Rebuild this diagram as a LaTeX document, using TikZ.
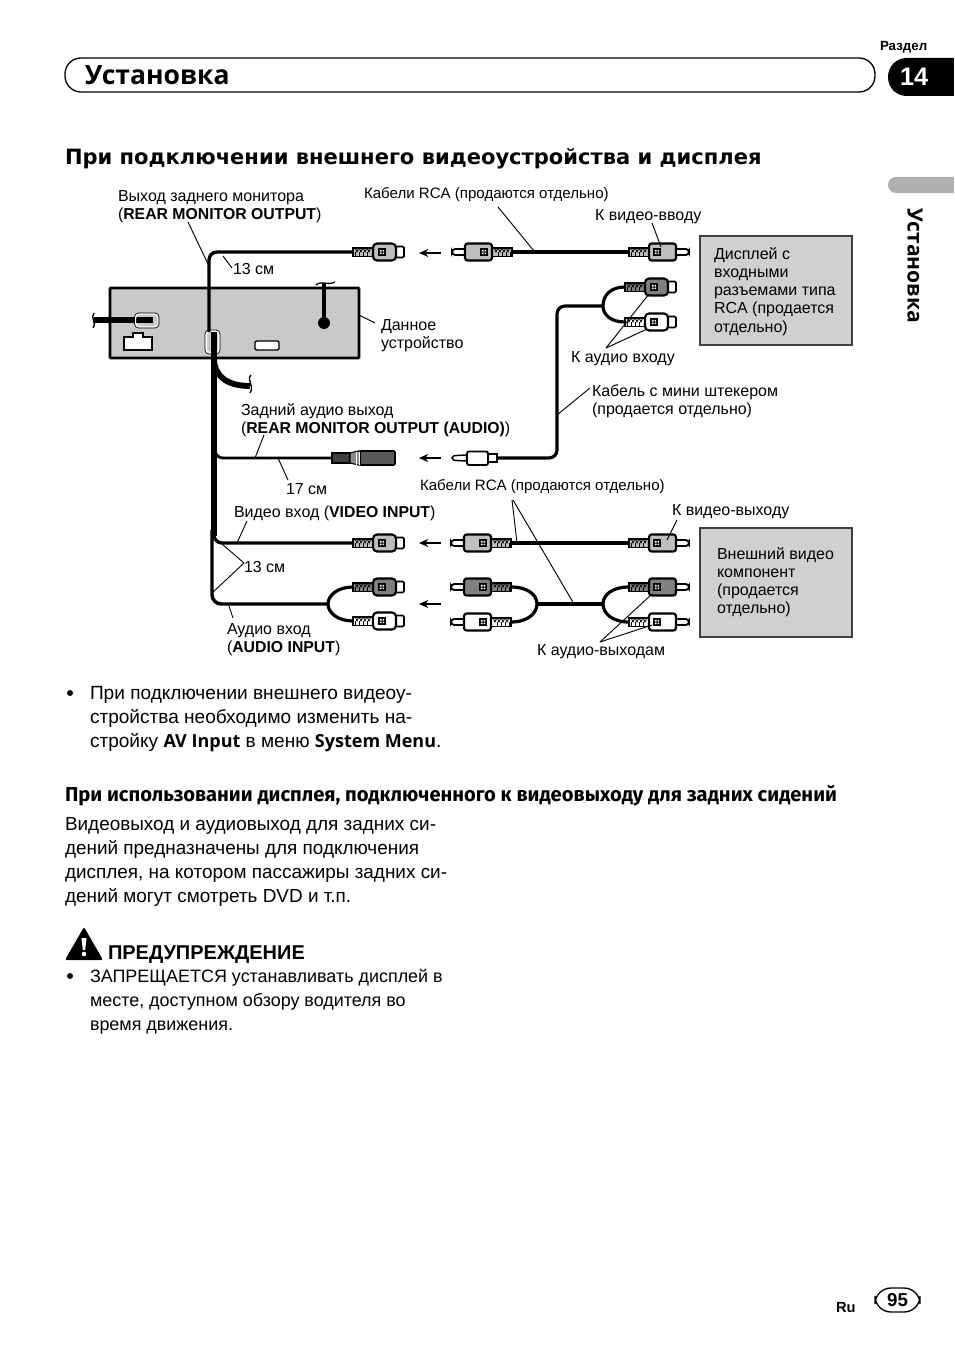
\documentclass[tikz,border=0pt]{standalone}
\usepackage{fontspec}
\setmainfont{Liberation Sans}
\newfontfamily\headf{Open Sans}
\newfontfamily\subf{Fira Sans}
\newfontfamily\dejaf{DejaVu Sans}
\definecolor{boxgray}{HTML}{D0D0D0}
\definecolor{unitgray}{HTML}{C9C9C9}
\definecolor{tabgray}{HTML}{B0B0B0}
\definecolor{vidgray}{HTML}{BEBEBE}
\definecolor{redgray}{HTML}{808080}
\newcounter{ldr}
\newcommand\leader[2]{\stepcounter{ldr}\coordinate (la\theldr) at (#1);\coordinate (lb\theldr) at (#2);\draw[leaderline] (la\theldr) -- (lb\theldr);}
\newcommand\lab[4]{\node[#4] (#1) at (#2) {\rule{0pt}{10pt}#3};}
\newcommand\bt[1]{{\fontsize{11.85}{13.7}\selectfont\bfseries #1}}
\newcommand\hb[1]{{\headf\fontsize{13.5}{18}\selectfont\bfseries #1}}
\newcommand\bootdraw[1]{%
  \draw[fill=#1,line width=0.8pt] (0,-4.5) -- (20,-4.5) -- (20,4.5) -- (0,4.5) -- cycle;
  \foreach \k in {2,6,10,14}{\draw[line width=0.6pt] (\k,-4.5) -- (\k+2,0) -- (\k+4,-4.5);\draw[line width=0.6pt] (\k,4.5) -- (\k,0);}
  \draw[line width=1pt] (0,-4) -- (20,-4);
}
\newcommand\chipdraw[1]{%
  \fill[black] (#1-4,-4) rectangle (#1+4,4);
  \fill[white] (#1-2.2,-2.2) rectangle (#1-0.5,-0.5) (#1+0.5,-2.2) rectangle (#1+2.2,-0.5) (#1-2.2,0.5) rectangle (#1-0.5,2.2) (#1+0.5,0.5) rectangle (#1+2.2,2.2);
}
\usetikzlibrary{arrows.meta}
\tikzset{
 x=0.75pt,y=-0.75pt,
 leaderline/.style={line width=0.7pt,black},
 midc/.style={line width=2.5pt,black,rounded corners=6},
 thinc/.style={line width=2.1pt,black},
 dirarrow/.style={line width=0.8pt,-{Stealth[length=7pt,width=6pt]}},
 sq/.style={line width=1pt,black},
 txtbase/.style={anchor=north west,inner sep=0pt,outer sep=0pt,align=left,yshift=10pt},
 lbl/.style={txtbase,font=\fontsize{12}{13.7}\selectfont},
 lbs/.style={txtbase,font=\fontsize{11.3}{13.5}\selectfont},
 body/.style={txtbase,font=\fontsize{14.3}{18}\selectfont},
 bodyb/.style={txtbase,font=\fontsize{14.2}{18}\selectfont},
 bodys/.style={txtbase,font=\fontsize{13.45}{18}\selectfont},
 head/.style={anchor=base west,inner sep=0pt,outer sep=0pt},
 femalep/.pic={
  \bootdraw{#1}
  \draw[fill=white,line width=1.4pt,rounded corners=1] (40,-5.5) rectangle (51,5.5);
  \draw[fill=#1,line width=1.6pt,rounded corners=3] (20,-8.5) rectangle (43,8.5);
  \chipdraw{29}
 },
 malep/.pic={
  \bootdraw{#1}
  \draw[fill=white,line width=1.4pt,rounded corners=2.5] (44,-3) rectangle (60,3);
  \draw[fill=#1,line width=1.6pt,rounded corners=2] (20,-8.5) rectangle (47,8.5);
  \chipdraw{28}
 },
}
\begin{document}
\begin{tikzpicture}
\useasboundingbox (0,0) rectangle (954,1352);
\fill[white] (0,0) rectangle (954,1352);

% header
\node[head,font=\fontsize{10}{11}\selectfont\bfseries] (razdel) at (880,51) {Раздел};
\draw[line width=1pt,rounded corners=12] (65,58) rectangle (875,92);
\node[head,font=\headf\fontsize{19.9}{24}\selectfont\bfseries] (title) at (85,85) {Установка};
\fill[black,rounded corners=14pt] (975,58) -- (888,58) -- (888,96) -- (975,96) -- cycle;
\fill[white] (954,50) rectangle (980,100);
\node[head,font=\fontsize{19}{22}\selectfont\bfseries,text=white] (secnum) at (900,86) {14};
\fill[tabgray,rounded corners=6pt] (975,177) -- (888,177) -- (888,193) -- (975,193) -- cycle;
\fill[white] (954,170) rectangle (980,200);
\node[anchor=north west,inner sep=0pt,rotate=-90,font=\headf\fontsize{15.8}{16}\selectfont\bfseries] (sidetab) at (923,208) {Установка};
\node[head,font=\dejaf\fontsize{15.77}{20}\selectfont\bfseries] (sechead) at (65,165) {При подключении внешнего видеоустройства и дисплея};

% head unit
\draw[fill=unitgray,line width=2pt,rounded corners=0.5] (110,288) rectangle (359,358);
\draw[line width=4.6pt] (94,320) -- (153,320);
\draw[sq] (94,313) .. controls (90,318) and (97,322) .. (93,328);
\draw[white,line width=1pt,rounded corners=3] (135.5,314) rectangle (158,327);
\draw[black,line width=0.5pt,rounded corners=3] (134.5,313) rectangle (159,328);
\draw[fill=white,line width=0.8pt] (124,337) -- (133,337) -- (133,333) -- (143,333) -- (143,337) -- (152,337) -- (152,350) -- (124,350) -- cycle;
\draw[fill=white,line width=1pt,rounded corners=1] (255,341) rectangle (279,350);
\coordinate (antTop) at (324,283);
\node[circle,fill=black,minimum size=9pt,inner sep=0pt] (antBall) at (324,323) {};
\draw[line width=3pt] (antTop) -- (antBall);
\draw[sq] (316,285) .. controls (322,280) and (327,286) .. (335,282);
\draw[white,line width=1.6pt,rounded corners=3] (206,331) rectangle (219,353);
\draw[black,line width=0.5pt,rounded corners=3] (205,330) rectangle (220,354);

% main harness
\coordinate (hubA) at (214,332);
\coordinate (hubTop) at (209,332);
\coordinate (femTopEnd) at (353,252);
\draw[midc] (hubTop) -- (209,252) -- (femTopEnd);
\draw[line width=5pt] (hubA) -- (214,536);
\coordinate (vidEnd) at (353,543);
\draw[midc] (214,525) -- (214,543) -- (vidEnd);
\coordinate (audJ) at (328,604);
\draw[line width=2.6pt,rounded corners=7] (212,530) -- (212,604) -- (audJ);
\coordinate (branchEnd) at (250,386);
\draw[line width=4.4pt] (214,360) .. controls (215,377) and (228,386) .. (branchEnd);
\draw[sq] (251,375) .. controls (246,380) and (255,386) .. (250,393);
\coordinate (jackEnd) at (332,458);
\draw[thinc,rounded corners=6] (215,440) -- (215,458) -- (jackEnd);

% plugs
\pic at (353,252) {femalep=vidgray};
\pic at (353,543) {femalep=vidgray};
\pic at (353,587) {femalep=redgray};
\pic at (353,621) {femalep=white};
\coordinate (f1) at (353,587);
\coordinate (f2) at (353,621);
\draw[line width=2.4pt] (f1) .. controls (338,587) and (328,595) .. (audJ) .. controls (328,613) and (338,621) .. (f2);

\pic[xscale=-1] at (512,252) {malep=vidgray};
\pic at (629,252) {malep=vidgray};
\coordinate (m1L) at (512,252);
\coordinate (m1R) at (629,252);
\draw[line width=3.2pt] (m1L) -- (m1R);

\pic[xscale=-1] at (511,543) {malep=vidgray};
\pic at (629,543) {malep=vidgray};
\coordinate (m2L) at (511,543);
\coordinate (m2R) at (629,543);
\draw[line width=3pt] (m2L) -- (m2R);

\pic[xscale=-1] at (511,587) {malep=redgray};
\pic[xscale=-1] at (511,622) {malep=white};
\pic at (629,587) {malep=redgray};
\pic at (629,622) {malep=white};
\coordinate (m3a) at (511,587);
\coordinate (m3b) at (511,622);
\coordinate (m3c) at (629,587);
\coordinate (m3d) at (629,622);
\coordinate (j3L) at (537,604);
\coordinate (j3R) at (603,604);
\draw[line width=2.4pt] (m3a) .. controls (528,587) and (537,595) .. (j3L) .. controls (537,613) and (528,622) .. (m3b);
\draw[line width=2.4pt] (m3c) .. controls (612,587) and (603,595) .. (j3R) .. controls (603,613) and (612,622) .. (m3d);
\draw[line width=2.4pt] (j3L) -- (j3R);

% audio-in pair top right
\pic at (625,287) {femalep=redgray};
\pic at (625,322) {femalep=white};
\coordinate (a1) at (625,287);
\coordinate (a2) at (625,322);
\coordinate (aJ) at (603,306);
\draw[line width=2.4pt] (a1) .. controls (611,287) and (603,295) .. (aJ) .. controls (603,315) and (611,322) .. (a2);
\coordinate (miniEnd) at (497,458);
\draw[line width=2.4pt,rounded corners=6] (aJ) -- (557,306) -- (557,458) -- (miniEnd);

% mini jack female
\draw[fill=black!75,line width=0.8pt] (332,453) rectangle (350,463);
\draw[fill=black!45,line width=0.8pt] (350,453) -- (358,451) -- (360,451) -- (360,465) -- (358,465) -- (350,463) -- cycle;
\draw[fill=black!65,line width=1.2pt,rounded corners=1] (360,451) rectangle (395,465);
\draw[white,line width=0.7pt] (356,451.5) -- (356,464.5) (359,451.5) -- (359,464.5);
% mini plug
\draw[fill=white,line width=1.1pt,rounded corners=1.5] (452,456) -- (456,455.5) -- (467,455) -- (467,461) -- (456,460.5) -- (452,460) -- cycle;
\draw[fill=white,line width=1.2pt] (488,454) rectangle (497,462);
\draw[fill=white,line width=1.4pt,rounded corners=1.5] (467,451.5) rectangle (488,465);

% flow arrows
\foreach \nm/\yy in {ar1/253,ar2/458,ar3/543,ar4/604}{
 \coordinate (\nm s) at (441,\yy);\coordinate (\nm e) at (419,\yy);
 \draw[dirarrow] (\nm s) -- (\nm e);
}

% device boxes
\draw[fill=boxgray,line width=1.5pt,draw=black!75] (700,236) rectangle (852,345);
\draw[fill=boxgray,line width=1.5pt,draw=black!75] (700,528) rectangle (852,637);

% leader lines
\leader{188,222}{208,264}
\leader{223,256}{232,268}
\leader{359,315}{375,323}
\leader{264,435}{255,458}
\leader{278,458}{288,480}
\leader{498,207}{534,251}
\leader{652,223}{661,247}
\leader{606,348}{649,294}
\leader{606,348}{645,330}
\leader{590,388}{557,415}
\leader{512,500}{517,543}
\leader{513,500}{574,604}
\leader{677,520}{667,540}
\leader{600,642}{652,594}
\leader{600,642}{652,625}
\leader{247,521}{237,543}
\leader{244,563}{222,544}
\leader{244,563}{212,593}
\leader{228,603}{233,618}

% labels
\lab{t1}{118,201}{Выход заднего монитора\\(\bt{REAR MONITOR OUTPUT})}{lbl}
\lab{t2}{364,198}{Кабели RCA (продаются отдельно)}{lbs}
\lab{t3}{595,220}{К видео-вводу}{lbl}
\lab{t4}{233,274}{13 см}{lbl}
\lab{t5}{381,330}{Данное\\устройство}{lbl}
\lab{t6}{571,362}{К аудио входу}{lbl}
\lab{t7}{592,396}{Кабель с мини штекером\\(продается отдельно)}{lbl}
\lab{t8}{241,415}{Задний аудио выход\\(\bt{REAR MONITOR OUTPUT (AUDIO)})}{lbl}
\lab{t9}{286,494}{17 см}{lbl}
\lab{t10}{420,490}{Кабели RCA (продаются отдельно)}{lbs}
\lab{t11}{234,517}{Видео вход (\bt{VIDEO INPUT})}{lbl}
\lab{t12}{672,515}{К видео-выходу}{lbl}
\lab{t13}{244,572}{13 см}{lbl}
\lab{t14}{227,634}{Аудио вход\\(\bt{AUDIO INPUT})}{lbl}
\lab{t15}{537,655}{К аудио-выходам}{lbl}
\lab{t16}{714,259}{Дисплей с\\входными\\разъемами типа\\RCA (продается\\отдельно)}{lbl}
\lab{t17}{717,559}{Внешний видео\\компонент\\(продается\\отдельно)}{lbl}

% text below
\node[circle,fill=black,minimum size=4.5pt,inner sep=0pt] (bul1) at (70,693) {};
\lab{b1}{90,699}{При подключении внешнего видеоу-\\стройства необходимо изменить на-\\стройку \hb{AV Input} в меню \hb{System Menu}.}{body}
\node[head,font=\subf\fontsize{15.1}{18}\selectfont\bfseries] (sub) at (65,801) {При использовании дисплея, подключенного к видеовыходу для задних сидений};
\lab{b2}{65,830}{Видеовыход и аудиовыход для задних си-\\дений предназначены для подключения\\дисплея, на котором пассажиры задних си-\\дений могут смотреть DVD и т.п.}{bodyb}
\fill[black,rounded corners=1.5] (65,960) -- (84,927) -- (103,960) -- cycle;
\fill[white] (81.5,938) -- (86.5,938) -- (85.2,950) -- (82.8,950) -- cycle;
\fill[white] (84,954) circle[radius=2.3];
\node[head,font=\fontsize{15}{18}\selectfont\bfseries] (warn) at (108,959) {ПРЕДУПРЕЖДЕНИЕ};
\node[circle,fill=black,minimum size=4.5pt,inner sep=0pt] (bul2) at (70,976) {};
\lab{b3}{90,982}{ЗАПРЕЩАЕТСЯ устанавливать дисплей в\\месте, доступном обзору водителя во\\время движения.}{bodys}

% footer
\node[head,font=\fontsize{11}{12}\selectfont\bfseries] (ru) at (836,1312) {Ru};
\draw[line width=1pt,rounded corners=12] (875,1288) rectangle (920,1312);
\node[font=\fontsize{14}{16}\selectfont\bfseries,inner sep=0pt] (pg) at (897.5,1300) {95};
\end{tikzpicture}
\end{document}
